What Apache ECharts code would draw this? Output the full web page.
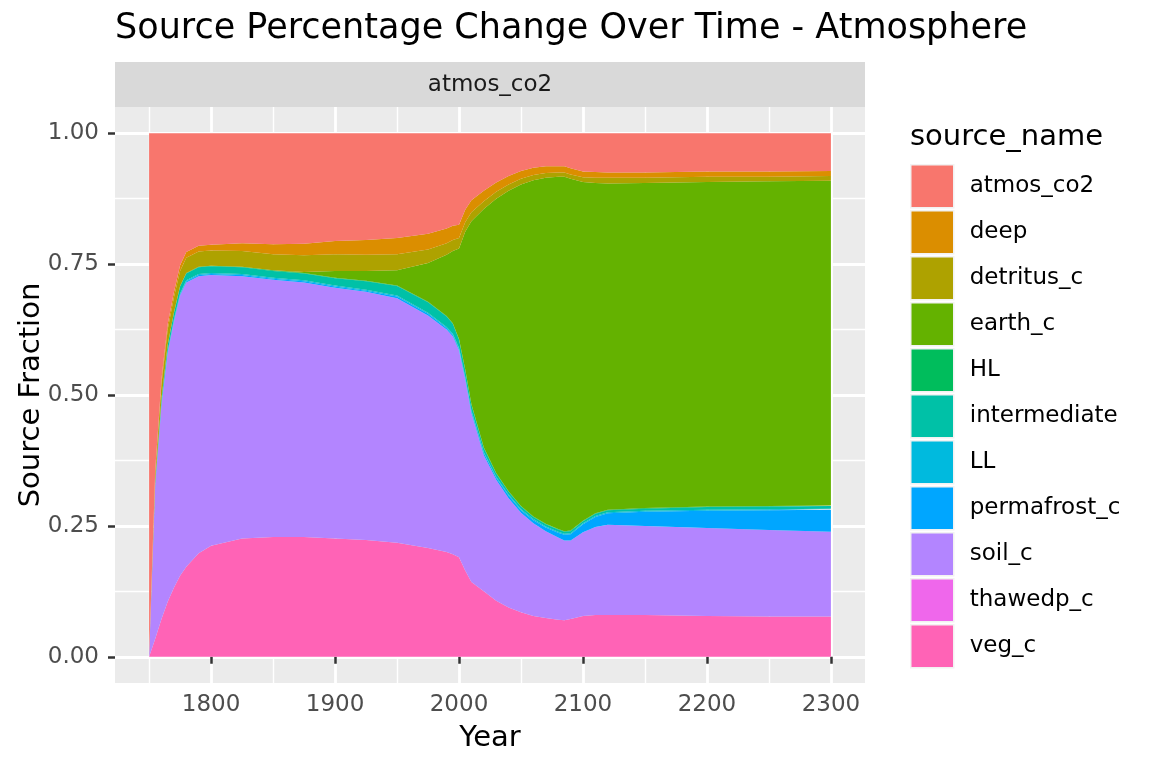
<!DOCTYPE html>
<html>
<head>
<meta charset="utf-8">
<script src="https://cdn.jsdelivr.net/npm/echarts@6/dist/echarts.min.js"></script>
<style>
html,body{margin:0;padding:0;background:#fff;}
#chart{width:1152px;height:768px;}
</style>
</head>
<body>
<div id="chart"></div>
<script>
const years = [1750,1755,1760,1765,1770,1775,1780,1790,1800,1825,1850,1875,1900,1925,1950,1975,1990,1995,2000,2005,2010,2020,2030,2040,2050,2060,2070,2080,2085,2090,2100,2110,2120,2150,2200,2250,2300];

const veg_c = [0,0.035,0.072,0.105,0.132,0.155,0.172,0.198,0.212,0.226,0.229,0.229,0.226,0.223,0.218,0.208,0.200,0.196,0.190,0.165,0.143,0.125,0.107,0.094,0.085,0.078,0.074,0.071,0.070,0.072,0.078,0.080,0.080,0.080,0.078,0.077,0.077];
const thawedp_c = [0,0,0,0,0,0,0,0,0,0,0,0,0,0,0,0,0,0,0,0,0,0,0,0,0,0,0,0,0,0,0,0,0,0,0,0,0];
const soil_c = [0,0.295,0.408,0.475,0.508,0.535,0.543,0.529,0.517,0.501,0.491,0.486,0.479,0.474,0.467,0.444,0.425,0.416,0.395,0.365,0.322,0.26,0.231,0.209,0.19,0.177,0.166,0.157,0.152,0.15,0.16,0.168,0.172,0.17,0.168,0.165,0.162];
const permafrost_c = [0,0.001,0.002,0.002,0.002,0.002,0.002,0.002,0.002,0.002,0.002,0.002,0.002,0.002,0.003,0.003,0.003,0.003,0.003,0.003,0.004,0.004,0.004,0.005,0.005,0.006,0.007,0.009,0.011,0.012,0.015,0.019,0.022,0.027,0.033,0.038,0.042];
const LL = [0,0.001,0.002,0.002,0.002,0.002,0.002,0.002,0.002,0.002,0.002,0.002,0.002,0.002,0.002,0.002,0.002,0.002,0.002,0.002,0.002,0.002,0.002,0.002,0.002,0.002,0.002,0.002,0.002,0.002,0.002,0.002,0.002,0.002,0.002,0.002,0.002];
const intermediate = [0,0.004,0.008,0.011,0.012,0.013,0.013,0.013,0.013,0.013,0.013,0.013,0.014,0.016,0.018,0.020,0.020,0.019,0.016,0.013,0.011,0.008,0.006,0.005,0.005,0.004,0.004,0.004,0.004,0.004,0.004,0.004,0.004,0.004,0.005,0.005,0.005];
const HL = [0,0.001,0.001,0.001,0.001,0.001,0.001,0.001,0.001,0.001,0.001,0.001,0.001,0.001,0.001,0.001,0.001,0.001,0.001,0.001,0.001,0.001,0.001,0.001,0.001,0.001,0.001,0.001,0.001,0.001,0.001,0.001,0.001,0.001,0.001,0.001,0.001];
const earth_c = [0,0,0,0,0,0,0,0,0,0,0,0.002,0.013,0.019,0.029,0.074,0.117,0.138,0.173,0.263,0.349,0.455,0.524,0.574,0.614,0.642,0.661,0.673,0.677,0.672,0.647,0.631,0.623,0.621,0.62,0.62,0.62];
const detritus_c = [0,0.015,0.028,0.029,0.029,0.029,0.029,0.029,0.029,0.030,0.031,0.032,0.032,0.031,0.031,0.026,0.022,0.021,0.020,0.018,0.017,0.015,0.013,0.012,0.011,0.010,0.009,0.008,0.008,0.008,0.009,0.010,0.011,0.010,0.010,0.009,0.009];
const deep = [0,0.006,0.009,0.010,0.010,0.011,0.011,0.011,0.011,0.015,0.019,0.022,0.025,0.028,0.031,0.030,0.028,0.027,0.025,0.024,0.023,0.020,0.018,0.016,0.015,0.014,0.013,0.012,0.012,0.012,0.011,0.011,0.010,0.010,0.010,0.010,0.010];
const atmos_co2 = [1,0.642,0.470,0.365,0.304,0.252,0.227,0.215,0.213,0.21,0.212,0.211,0.206,0.204,0.20,0.192,0.182,0.177,0.175,0.146,0.128,0.11,0.094,0.082,0.072,0.066,0.063,0.063,0.063,0.067,0.073,0.074,0.075,0.075,0.073,0.073,0.072];

const legendOrder = ['atmos_co2','deep','detritus_c','earth_c','HL','intermediate','LL','permafrost_c','soil_c','thawedp_c','veg_c'];
const colors = {
  atmos_co2:'#F8766D', deep:'#DB8E00', detritus_c:'#AEA200', earth_c:'#64B200', HL:'#00BD5C',
  intermediate:'#00C1A7', LL:'#00BADE', permafrost_c:'#00A6FF', soil_c:'#B385FF', thawedp_c:'#EF67EB', veg_c:'#FF63B6'
};
// bottom-to-top stacking order
const stackOrder = [
  ['veg_c', veg_c], ['thawedp_c', thawedp_c], ['soil_c', soil_c], ['permafrost_c', permafrost_c],
  ['LL', LL], ['intermediate', intermediate], ['HL', HL], ['earth_c', earth_c],
  ['detritus_c', detritus_c], ['deep', deep], ['atmos_co2', atmos_co2]
];

const xMajor = [1800,1900,2000,2100,2200,2300];
const xMinor = [1750,1850,1950,2050,2150,2250];
const yMajor = [0,0.25,0.5,0.75,1];
const yMinor = [0.125,0.375,0.625,0.875];

const FONT = 'DejaVu Sans';
const chart = echarts.init(document.getElementById('chart'), null, {renderer:'canvas'});

// value first, year second, so the stacked dimension is the fraction
const series = stackOrder.map(([name, vals]) => ({
  name: name,
  type: 'line',
  stack: 'total',
  xAxisIndex: 0, yAxisIndex: 0,
  encode: {x: 1, y: 0},
  data: years.map((y, i) => [vals[i], y]),
  symbol: 'none',
  showSymbol: false,
  smooth: false,
  lineStyle: {width: 0, opacity: 0},
  areaStyle: {color: colors[name], opacity: 1},
  itemStyle: {color: colors[name]},
  emphasis: {disabled: true},
  z: 3
}));

const option = {
  animation: false,
  backgroundColor: '#ffffff',
  grid: {left: 115, right: 287, top: 107, bottom: 85, show: true, backgroundColor: '#EBEBEB', borderWidth: 0},
  xAxis: [{
    type: 'value', min: 1722.5, max: 2327.5, position: 'bottom',
    axisLine: {show: false},
    axisTick: {show: true, customValues: xMajor, length: 7, lineStyle: {color: '#333333', width: 2.5}},
    axisLabel: {customValues: xMajor, color: '#4D4D4D', fontSize: 23, fontFamily: FONT, margin: 11,
      formatter: v => String(v)},
    splitLine: {show: true, lineStyle: {color: '#FFFFFF', width: 2.8}}
  }, {
    type: 'value', min: 1722.5, max: 2327.5, position: 'bottom',
    axisLine: {show: false},
    axisTick: {show: false, customValues: xMinor},
    axisLabel: {show: false, customValues: xMinor},
    splitLine: {show: true, lineStyle: {color: '#FFFFFF', width: 1.4}}
  }],
  yAxis: [{
    type: 'value', min: -0.05, max: 1.05, position: 'left',
    axisLine: {show: false},
    axisTick: {show: true, customValues: yMajor, length: 7, lineStyle: {color: '#333333', width: 2.5}},
    axisLabel: {customValues: yMajor, color: '#4D4D4D', fontSize: 23, fontFamily: FONT, margin: 16,
      formatter: v => v.toFixed(2)},
    splitLine: {show: true, lineStyle: {color: '#FFFFFF', width: 2.8}}
  }, {
    type: 'value', min: -0.05, max: 1.05, position: 'left',
    axisLine: {show: false},
    axisTick: {show: false, customValues: yMinor},
    axisLabel: {show: false, customValues: yMinor},
    splitLine: {show: true, lineStyle: {color: '#FFFFFF', width: 1.4}}
  }],
  legend: {
    orient: 'vertical', left: 910, top: 164, padding: 0,
    data: legendOrder,
    icon: 'rect', itemWidth: 43, itemHeight: 43, itemGap: 1.5,
    itemStyle: {borderColor: '#F2F2F2', borderWidth: 1.5},
    textStyle: {fontSize: 23, color: '#000000', fontFamily: FONT, padding: [0,0,0,11]},
    selectedMode: false
  },
  graphic: [
    {type: 'text', left: 115, top: 11, style: {text: 'Source Percentage Change Over Time - Atmosphere', fontSize: 35, fontFamily: FONT, fill: '#000000'}},
    {type: 'rect', shape: {x: 115, y: 62, width: 750, height: 45}, style: {fill: '#D9D9D9'}, z: 1},
    {type: 'text', x: 490, y: 85, style: {text: 'atmos_co2', fontSize: 23, fontFamily: FONT, fill: '#1A1A1A', align: 'center', verticalAlign: 'middle'}, z: 2},
    {type: 'text', x: 490, y: 738, style: {text: 'Year', fontSize: 29, fontFamily: FONT, fill: '#000000', align: 'center', verticalAlign: 'middle'}},
    {type: 'text', x: 31, y: 395, rotation: Math.PI/2, style: {text: 'Source Fraction', fontSize: 29, fontFamily: FONT, fill: '#000000', align: 'center', verticalAlign: 'middle'}},
    {type: 'text', x: 910, y: 137, style: {text: 'source_name', fontSize: 29, fontFamily: FONT, fill: '#000000', align: 'left', verticalAlign: 'middle'}}
  ],
  series: series
};
chart.setOption(option);
</script>
</body>
</html>
